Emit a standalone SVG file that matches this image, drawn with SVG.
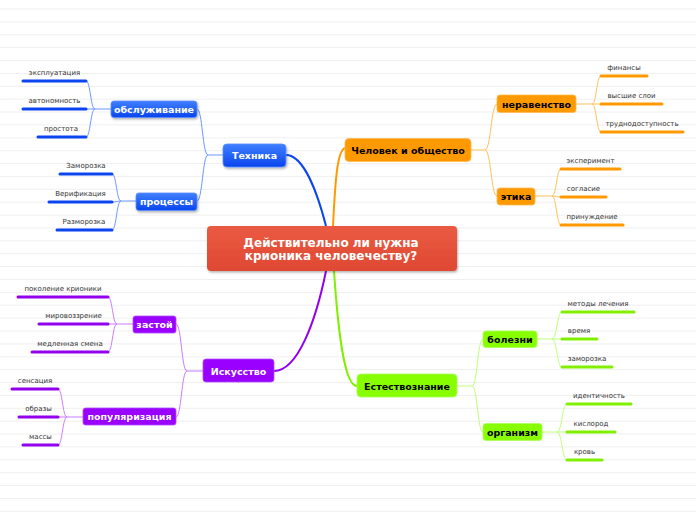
<svg xmlns="http://www.w3.org/2000/svg" width="696" height="520" viewBox="0 0 696 520">
<defs>
<linearGradient id="gRoot" x1="0" y1="0" x2="0" y2="1"><stop offset="0" stop-color="#ea5a42"/><stop offset="1" stop-color="#df4933"/></linearGradient>
<linearGradient id="gBlue" x1="0" y1="0" x2="0" y2="1"><stop offset="0" stop-color="#3f80ff"/><stop offset="1" stop-color="#0b45ee"/></linearGradient>
<filter id="sh" x="-20%" y="-30%" width="140%" height="170%"><feDropShadow dx="1" dy="1.5" stdDeviation="1.2" flood-color="#000" flood-opacity="0.3"/></filter>
</defs>
<style>
.bg{stroke:#efefef;stroke-width:1;fill:none}
text{font-family:"DejaVu Sans","Liberation Sans",sans-serif}
.nt{font-weight:bold;font-size:9.5px;text-anchor:middle}
.w{fill:#fff}
.k{fill:#000}
.lt{font-size:7px;fill:#333;text-anchor:middle}
.rt{font-weight:bold;font-size:12px;fill:#fff;text-anchor:middle}
.bar{stroke-width:3;stroke-linecap:round;fill:none}
.c{fill:none;stroke-width:1}
.m{fill:none;stroke-width:2}
.blue{stroke:#0a45f0}.blueL{stroke:#6a96ff}
.pur{stroke:#9300ee}.purL{stroke:#c67cff}
.org{stroke:#ff9900}.orgL{stroke:#ffbf5c}
.grn{stroke:#80f000}.grnL{stroke:#bfff78}
</style>
<rect width="696" height="520" fill="#fff"/>
<path class="bg" d="M0,9H696M0,21.9H696M0,34.8H696M0,47.6H696M0,60.5H696M0,73.4H696M0,86.3H696M0,99.2H696M0,112H696M0,124.9H696M0,137.8H696M0,150.7H696M0,163.6H696M0,176.4H696M0,189.3H696M0,202.2H696M0,215.1H696M0,228H696M0,240.8H696M0,253.7H696M0,266.6H696M0,279.5H696M0,292.4H696M0,305.2H696M0,318.1H696M0,331H696M0,343.9H696M0,356.8H696M0,369.6H696M0,382.5H696M0,395.4H696M0,408.3H696M0,421.2H696M0,434H696M0,446.9H696M0,459.8H696M0,472.7H696M0,485.6H696M0,498.4H696M0,511.3H696"/>

<g id="connectors">
<!-- root branches -->
<path class="m blue" d="M286,155 C304,155 318,195 326,226"/>
<path class="m org" d="M333,226 C335,185 337,150 345,148"/>
<path class="m pur" d="M326,271 C316,320 298,371 274,371"/>
<path class="m grn" d="M334,271 C338,330 344,386 357,386"/>
<!-- Техника -->
<path class="c blueL" d="M223,155 H208 C202.5,155 202.5,109 197,109"/>
<path class="c blueL" d="M208,155 C202.5,155 202.5,201 197,201"/>
<path class="c blueL" d="M111,109 H95 C90.5,109 90.5,81 86,81"/>
<path class="c blueL" d="M95,109 H86"/>
<path class="c blueL" d="M95,109 C90.5,109 90.5,137 86,137"/>
<path class="c blueL" d="M136,201 H121 C116.5,201 116.5,174 112,174"/>
<path class="c blueL" d="M121,201 C116.5,201 116.5,202 112,202"/>
<path class="c blueL" d="M121,201 C116.5,201 116.5,230 112,230"/>
<!-- Искусство -->
<path class="c purL" d="M203,371 H187 C181.5,371 181.5,324 176,324"/>
<path class="c purL" d="M187,371 C181.5,371 181.5,417 176,417"/>
<path class="c purL" d="M133,324 H117 C112.5,324 112.5,297 108,297"/>
<path class="c purL" d="M117,324 H108"/>
<path class="c purL" d="M117,324 C112.5,324 112.5,352 108,352"/>
<path class="c purL" d="M83,417 H67 C62.5,417 62.5,389 58,389"/>
<path class="c purL" d="M67,417 H58"/>
<path class="c purL" d="M67,417 C62.5,417 62.5,445 58,445"/>
<!-- Человек и общество -->
<path class="c orgL" d="M471,150 H485 C491,150 491,104 497,104"/>
<path class="c orgL" d="M485,150 C491,150 491,196 497,196"/>
<path class="c orgL" d="M576,104 H592 C596.5,104 596.5,76 601,76"/>
<path class="c orgL" d="M592,104 H601"/>
<path class="c orgL" d="M592,104 C596.5,104 596.5,132 601,132"/>
<path class="c orgL" d="M535,196 H552 C556.5,196 556.5,169 561,169"/>
<path class="c orgL" d="M552,196 C556.5,196 556.5,197 561,197"/>
<path class="c orgL" d="M552,196 C556.5,196 556.5,225 561,225"/>
<!-- Естествознание -->
<path class="c grnL" d="M457,386 H472 C477.5,386 477.5,339 483,339"/>
<path class="c grnL" d="M472,386 C477.5,386 477.5,432 483,432"/>
<path class="c grnL" d="M537,339 H552 C557,339 557,312 562,312"/>
<path class="c grnL" d="M552,339 H562"/>
<path class="c grnL" d="M552,339 C557,339 557,367 562,367"/>
<path class="c grnL" d="M542,432 H557 C562,432 562,404 567,404"/>
<path class="c grnL" d="M557,432 H567"/>
<path class="c grnL" d="M557,432 C562,432 562,460 567,460"/>
</g>

<g id="root">
<rect x="207" y="226" width="250" height="45" rx="4" fill="url(#gRoot)" filter="url(#sh)"/>
<text class="rt" x="331" y="246.5">Действительно ли нужна</text>
<text class="rt" x="331" y="260">крионика человечеству?</text>
</g>

<g id="tehnika">
<rect x="223" y="144" width="63" height="23" rx="4" fill="url(#gBlue)" stroke="#5b8dff" stroke-width="0.8" filter="url(#sh)"/>
<text class="nt w" x="254.5" y="158.5">Техника</text>
</g>
<g id="obsluzhivanie">
<rect x="111" y="101" width="86" height="16.5" rx="3" fill="url(#gBlue)" stroke="#5b8dff" stroke-width="0.8" filter="url(#sh)"/>
<text class="nt w" x="154" y="112.5">обслуживание</text>
</g>
<g id="processy">
<rect x="136" y="193" width="61" height="17.5" rx="3" fill="url(#gBlue)" stroke="#5b8dff" stroke-width="0.8" filter="url(#sh)"/>
<text class="nt w" x="166.5" y="205">процессы</text>
</g>
<g id="leaf-ekspluataciya"><path class="bar blue" d="M23,81H86"/><text class="lt" x="54.5" y="75">эксплуатация</text></g>
<g id="leaf-avtonomnost"><path class="bar blue" d="M23,109H86"/><text class="lt" x="54.5" y="103">автономность</text></g>
<g id="leaf-prostota"><path class="bar blue" d="M38,137H86"/><text class="lt" x="61" y="131">простота</text></g>
<g id="leaf-zamorozka1"><path class="bar blue" d="M60,174H112"/><text class="lt" x="86" y="168">Заморозка</text></g>
<g id="leaf-verifikaciya"><path class="bar blue" d="M49,202H112"/><text class="lt" x="80.5" y="196">Верификация</text></g>
<g id="leaf-razmorozka"><path class="bar blue" d="M57,230H112"/><text class="lt" x="84" y="224">Разморозка</text></g>

<g id="iskusstvo">
<rect x="203" y="359" width="71" height="23" rx="3" fill="#9900ff" stroke="#b04dff" stroke-width="0.8"/>
<text class="nt w" x="238.5" y="374.5">Искусство</text>
</g>
<g id="zastoy">
<rect x="133" y="316" width="43" height="17" rx="2.5" fill="#9900ff" stroke="#b04dff" stroke-width="0.8"/>
<text class="nt w" x="154.5" y="328">застой</text>
</g>
<g id="populyarizaciya">
<rect x="83" y="408" width="93" height="17" rx="2.5" fill="#9900ff" stroke="#b04dff" stroke-width="0.8"/>
<text class="nt w" x="129.5" y="420">популяризация</text>
</g>
<g id="leaf-pokolenie"><path class="bar pur" d="M18,297H108"/><text class="lt" x="63" y="291">поколение крионики</text></g>
<g id="leaf-mirovozzrenie"><path class="bar pur" d="M39,324H108"/><text class="lt" x="73.5" y="318">мировоззрение</text></g>
<g id="leaf-medlennaya"><path class="bar pur" d="M32,352H108"/><text class="lt" x="70" y="346">медленная смена</text></g>
<g id="leaf-sensaciya"><path class="bar pur" d="M12,389H58"/><text class="lt" x="35" y="383">сенсация</text></g>
<g id="leaf-obrazy"><path class="bar pur" d="M19,417H58"/><text class="lt" x="38.5" y="411">образы</text></g>
<g id="leaf-massy"><path class="bar pur" d="M23,445H58"/><text class="lt" x="40.5" y="439">массы</text></g>

<g id="chelovek">
<rect x="345" y="138.5" width="126" height="23" rx="4" fill="#ff9900" stroke="#ffb84d" stroke-width="0.8"/>
<text class="nt k" x="408" y="153.5">Человек и общество</text>
</g>
<g id="neravenstvo">
<rect x="497" y="95" width="79" height="17.5" rx="3" fill="#ff9900" stroke="#ffb84d" stroke-width="0.8"/>
<text class="nt k" x="536.5" y="107.5">неравенство</text>
</g>
<g id="etika">
<rect x="497" y="188" width="38" height="17" rx="3" fill="#ff9900" stroke="#ffb84d" stroke-width="0.8"/>
<text class="nt k" x="516" y="200">этика</text>
</g>
<g id="leaf-finansy"><path class="bar org" d="M601,76H647"/><text class="lt" x="624" y="70">финансы</text></g>
<g id="leaf-vysshie"><path class="bar org" d="M601,104H662"/><text class="lt" x="631.5" y="98">высшие слои</text></g>
<g id="leaf-trudno"><path class="bar org" d="M601,132H683"/><text class="lt" x="642" y="126">труднодоступность</text></g>
<g id="leaf-eksperiment"><path class="bar org" d="M561,169H620"/><text class="lt" x="590.5" y="163">эксперимент</text></g>
<g id="leaf-soglasie"><path class="bar org" d="M561,197H606"/><text class="lt" x="583.5" y="191">согласие</text></g>
<g id="leaf-prinuzhdenie"><path class="bar org" d="M561,225H623"/><text class="lt" x="592" y="219">принуждение</text></g>

<g id="estestvoznanie">
<rect x="357" y="374" width="100" height="23" rx="4" fill="#88ff00" stroke="#aaff55" stroke-width="0.8"/>
<text class="nt k" x="407" y="389.5">Естествознание</text>
</g>
<g id="bolezni">
<rect x="483" y="331" width="54" height="16.5" rx="3" fill="#88ff00" stroke="#aaff55" stroke-width="0.8"/>
<text class="nt k" x="510" y="342.5">болезни</text>
</g>
<g id="organizm">
<rect x="483" y="423.5" width="59" height="17" rx="3" fill="#88ff00" stroke="#aaff55" stroke-width="0.8"/>
<text class="nt k" x="512.5" y="435.5">организм</text>
</g>
<g id="leaf-metody"><path class="bar grn" d="M562,312H634"/><text class="lt" x="598" y="306">методы лечения</text></g>
<g id="leaf-vremya"><path class="bar grn" d="M562,339H597"/><text class="lt" x="579" y="333">время</text></g>
<g id="leaf-zamorozka2"><path class="bar grn" d="M562,367H612"/><text class="lt" x="587" y="361">заморозка</text></g>
<g id="leaf-identichnost"><path class="bar grn" d="M567,404H631"/><text class="lt" x="599" y="398">идентичность</text></g>
<g id="leaf-kislorod"><path class="bar grn" d="M567,432H615"/><text class="lt" x="591" y="426">кислород</text></g>
<g id="leaf-krov"><path class="bar grn" d="M567,460H602"/><text class="lt" x="584.5" y="454">кровь</text></g>
</svg>
